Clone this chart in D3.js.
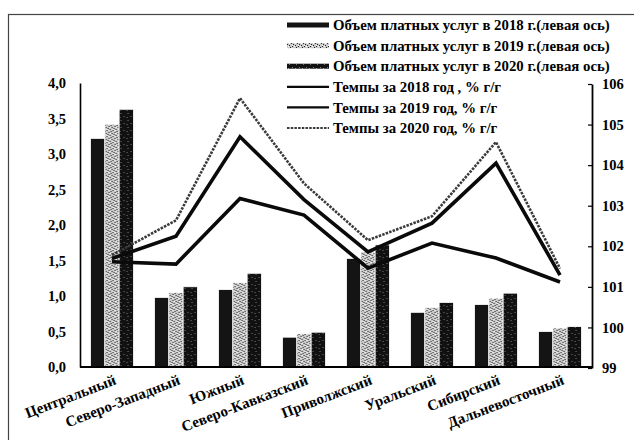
<!DOCTYPE html>
<html>
<head>
<meta charset="utf-8">
<script src="https://cdn.jsdelivr.net/npm/d3@7"></script>
<style>
  html, body { margin: 0; padding: 0; background: #fff; }
  svg { display: block; }
  text { font-family: "Liberation Serif", "Times New Roman", serif; font-weight: bold; fill: #000; }
</style>
</head>
<body>
<svg id="chart" width="634" height="440"></svg>
<script>
// Regions (federal districts)
const categories = ["Центральный", "Северо-Западный", "Южный", "Северо-Кавказский",
                    "Приволжский", "Уральский", "Сибирский", "Дальневосточный"];

// Volume of paid services, left axis
const vol2018 = [3.22, 0.98, 1.09, 0.42, 1.53, 0.77, 0.88, 0.50];
const vol2019 = [3.42, 1.05, 1.19, 0.47, 1.62, 0.84, 0.97, 0.55];
const vol2020 = [3.63, 1.13, 1.32, 0.49, 1.72, 0.91, 1.04, 0.57];

// Growth rates, % y/y, right axis
const rate2018 = [101.62, 101.56, 103.18, 102.77, 101.46, 102.08, 101.71, 101.12];
const rate2019 = [101.70, 102.25, 104.70, 103.15, 101.86, 102.57, 104.05, 101.29];
const rate2020 = [101.78, 102.64, 105.65, 103.55, 102.15, 102.74, 104.57, 101.45];

const leftTicks = [0, 0.5, 1, 1.5, 2, 2.5, 3, 3.5, 4];
const rightTicks = [99, 100, 101, 102, 103, 104, 105, 106];

const barSeries = [
  { label: "Объем платных услуг в 2018 г.(левая ось)", values: vol2018 },
  { label: "Объем платных услуг в 2019 г.(левая ось)", values: vol2019 },
  { label: "Объем платных услуг в 2020 г.(левая ось)", values: vol2020 }
];
const lineSeries = [
  { label: "Темпы за 2018 год , % г/г", values: rate2018 },
  { label: "Темпы за 2019 год, % г/г", values: rate2019 },
  { label: "Темпы за 2020 год, % г/г", values: rate2020 }
];

const svg = d3.select("#chart");
const plot = { left: 80, right: 592, top: 83, bottom: 367 };

// Patterns imitating print hatching
const defs = svg.append("defs");
const p19 = defs.append("pattern").attr("id", "pat2019")
  .attr("patternUnits", "userSpaceOnUse").attr("width", 6).attr("height", 6);
p19.append("rect").attr("width", 6).attr("height", 6).attr("fill", "#c9c9c9");
[[0,0],[3,1],[1,3],[4,4],[2,5],[5,2]].forEach(([x, y]) =>
  p19.append("rect").attr("x", x).attr("y", y).attr("width", 1).attr("height", 1).attr("fill", "#222"));
[[1,1],[4,3],[0,4]].forEach(([x, y]) =>
  p19.append("rect").attr("x", x).attr("y", y).attr("width", 1).attr("height", 1).attr("fill", "#fff"));

const p20 = defs.append("pattern").attr("id", "pat2020")
  .attr("patternUnits", "userSpaceOnUse").attr("width", 7).attr("height", 7);
p20.append("rect").attr("width", 7).attr("height", 7).attr("fill", "#111");
[[2,1],[5,4],[1,5]].forEach(([x, y]) =>
  p20.append("rect").attr("x", x).attr("y", y).attr("width", 1).attr("height", 1).attr("fill", "#777"));

const fills = ["#141414", "url(#pat2019)", "url(#pat2020)"];
const lineStyles = [
  { width: 3.6, color: "#0a0a0a", dash: null },
  { width: 3.6, color: "#0a0a0a", dash: null },
  { width: 2.6, color: "#3a3a3a", dash: "2.5,1.2" }
];

// Outer frame
svg.append("rect").attr("x", 8.5).attr("y", 14.5).attr("width", 700).attr("height", 500)
  .attr("fill", "none").attr("stroke", "#444").attr("stroke-width", 1.2);

// Scales
const x0 = d3.scaleBand().domain(categories).range([plot.left, plot.right])
  .paddingInner(0.33).paddingOuter(0.165);
const x1 = d3.scaleBand().domain([0, 1, 2]).range([0, x0.bandwidth()]);
const yL = d3.scaleLinear().domain([0, 4]).range([plot.bottom, plot.top]);
const yR = d3.scaleLinear().domain([99, 106]).range([plot.bottom + 1, plot.top + 1]);

// Bars
const groups = svg.append("g").selectAll("g").data(categories).join("g")
  .attr("transform", d => `translate(${x0(d)},0)`);
groups.selectAll("rect")
  .data((d, i) => barSeries.map((s, k) => ({ k, v: s.values[i] })))
  .join("rect")
  .attr("x", d => x1(d.k))
  .attr("width", x1.bandwidth())
  .attr("y", d => yL(d.v))
  .attr("height", d => yL(0) - yL(d.v))
  .attr("fill", d => fills[d.k])
  .attr("stroke", "#fff").attr("stroke-width", 0.8);

// Lines
const cx = c => x0(c) + x0.bandwidth() / 2;
lineSeries.forEach((s, k) => {
  const line = d3.line().x((d, i) => cx(categories[i])).y(d => yR(d));
  svg.append("path").datum(s.values)
    .attr("d", line)
    .attr("fill", "none")
    .attr("stroke", lineStyles[k].color)
    .attr("stroke-width", lineStyles[k].width)
    .attr("stroke-linejoin", "miter")
    .attr("stroke-dasharray", lineStyles[k].dash);
});

// Left axis
const fmt = d => d.toFixed(1).replace(".", ",");
const axL = svg.append("g").attr("transform", `translate(${plot.left},0)`)
  .call(d3.axisLeft(yL).tickValues(leftTicks).tickFormat(fmt).tickSize(0).tickPadding(14));
axL.select(".domain").attr("stroke", "#000").attr("stroke-width", 1.6);
axL.selectAll("text").style("font-size", "14.5px").style("font-family", "Liberation Serif");

// Bottom axis line
svg.append("line").attr("x1", plot.left).attr("x2", plot.right)
  .attr("y1", plot.bottom).attr("y2", plot.bottom)
  .attr("stroke", "#000").attr("stroke-width", 1.8);

// Right axis
const axR = svg.append("g").attr("transform", `translate(${plot.right},0)`)
  .call(d3.axisRight(yR).tickValues(rightTicks).tickFormat(d3.format("d")).tickSizeInner(-4).tickSizeOuter(0).tickPadding(10));
axR.select(".domain").attr("stroke", "#000").attr("stroke-width", 1.8);
axR.selectAll(".tick line").attr("stroke", "#000").attr("stroke-width", 1.2);
axR.selectAll("text").style("font-size", "14.5px").style("font-family", "Liberation Serif");

// Category labels, rotated
svg.append("g").selectAll("text").data(categories).join("text")
  .attr("transform", d => `translate(${cx(d) + 5},${plot.bottom + 17}) rotate(-21)`)
  .attr("text-anchor", "end")
  .style("font-size", "15px")
  .text(d => d);

// Legend
const legend = svg.append("g");
const rows = barSeries.map((s, k) => ({ label: s.label, type: "bar", k }))
  .concat(lineSeries.map((s, k) => ({ label: s.label, type: "line", k })));
rows.forEach((r, i) => {
  const y = 25 + i * 20.6;
  if (r.type === "bar") {
    legend.append("rect").attr("x", 287).attr("y", y - 2.5).attr("width", 42).attr("height", 5)
      .attr("fill", fills[r.k]);
  } else {
    legend.append("line").attr("x1", 287).attr("x2", 329).attr("y1", y).attr("y2", y)
      .attr("stroke", lineStyles[r.k].color).attr("stroke-width", 2.2)
      .attr("stroke-dasharray", lineStyles[r.k].dash);
  }
  legend.append("text").attr("x", 333).attr("y", y).attr("dy", "0.35em")
    .style("font-size", "14.8px").text(r.label);
});
</script>
</body>
</html>
